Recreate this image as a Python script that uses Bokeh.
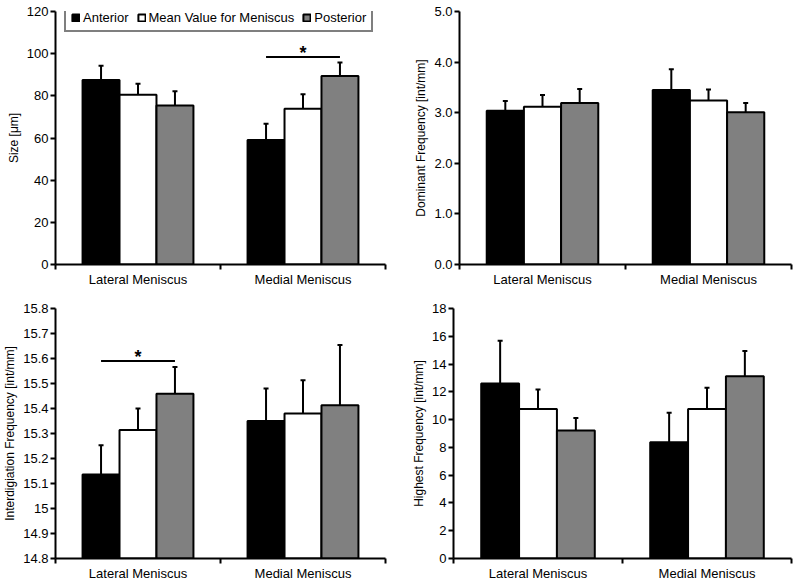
from bokeh.plotting import figure
from bokeh.models import (Range1d, FixedTicker, CustomJSTickFormatter, ColumnDataSource,
                          Whisker, TeeHead, Legend, LegendItem)
from bokeh.layouts import row, column
from bokeh.embed import file_html
from bokeh.resources import INLINE
from bokeh.core.properties import value

# ---------------- data ----------------
categories = ["Lateral Meniscus", "Medial Meniscus"]
series = ["Anterior", "Mean Value for Meniscus", "Posterior"]
series_colors = ["#000000", "#ffffff", "#808080"]

# per series: [Lateral, Medial]
size_values = [[87.5, 59.1], [80.5, 73.9], [75.4, 89.4]]
size_errors = [[6.8, 7.6], [5.2, 6.9], [6.8, 6.4]]
size_ticks = [0, 20, 40, 60, 80, 100, 120]

dominant_values = [[3.04, 3.45], [3.12, 3.24], [3.19, 3.01]]
dominant_errors = [[0.19, 0.41], [0.23, 0.22], [0.28, 0.18]]
dominant_ticks = [0.0, 1.0, 2.0, 3.0, 4.0, 5.0]

interdig_values = [[15.136, 15.350], [15.314, 15.380], [15.459, 15.413]]
interdig_errors = [[0.117, 0.130], [0.086, 0.133], [0.107, 0.241]]
interdig_ticks = [14.8, 14.9, 15.0, 15.1, 15.2, 15.3, 15.4, 15.5, 15.6, 15.7, 15.8]

highest_values = [[12.6, 8.37], [10.76, 10.76], [9.22, 13.13]]
highest_errors = [[3.08, 2.13], [1.41, 1.53], [0.89, 1.81]]
highest_ticks = [0, 2, 4, 6, 8, 10, 12, 14, 16, 18]

# significance brackets: (category index, bracket level)
size_sig = (1, 98.4)
interdig_sig = (0, 15.59)

# ---------------- style ----------------
FONT = "Liberation Sans"
BAR_W = 0.224
OFFSETS = [-BAR_W, 0.0, BAR_W]


def make_panel(values, errors, ylabel, yticks, fmt_code, width, height,
               mb_left, mb_right, mb_top, mb_bottom, sig=None, legend_loc=None):
    y0, y1 = yticks[0], yticks[-1]
    p = figure(width=width, height=height, x_range=Range1d(0, len(categories)),
               y_range=Range1d(y0, y1), output_backend="svg", toolbar_location=None,
               min_border_left=mb_left, min_border_right=mb_right,
               min_border_top=mb_top, min_border_bottom=mb_bottom)
    p.grid.visible = False
    p.outline_line_color = None
    p.background_fill_color = "white"

    renderers = []
    for s in range(len(series)):
        xs = [i + 0.5 + OFFSETS[s] for i in range(len(categories))]
        vals = values[s]
        ups = [v + e for v, e in zip(vals, errors[s])]
        src = ColumnDataSource(dict(x=xs, top=vals, upper=ups))
        r = p.vbar(x="x", top="top", bottom=y0, width=BAR_W, source=src,
                   fill_color=series_colors[s], line_color="black", line_width=2)
        w = Whisker(source=src, base="x", lower="top", upper="upper", dimension="height",
                    line_color="black", line_width=2, lower_head=None,
                    upper_head=TeeHead(size=5, line_width=2, line_color="black"),
                    level="overlay")
        p.add_layout(w)
        renderers.append(r)

    if sig is not None:
        ci, lvl = sig
        xa = ci + 0.5 + OFFSETS[0]
        xb = ci + 0.5 + OFFSETS[2]
        p.segment(x0=[xa], y0=[lvl], x1=[xb], y1=[lvl], line_color="black", line_width=2)
        p.text(x=[ci + 0.5], y=[lvl], text=["*"], text_align="center",
               text_baseline="alphabetic", y_offset=-4, text_font=value(FONT),
               text_font_size="18px", text_font_style="bold", text_color="black")

    # x axis: category labels centered, ticks at category boundaries
    xa_ = p.xaxis[0]
    xa_.ticker = FixedTicker(ticks=[i + 0.5 for i in range(len(categories))],
                             minor_ticks=list(range(len(categories) + 1)))
    xa_.formatter = CustomJSTickFormatter(args=dict(cats=categories),
                                          code="return cats[Math.floor(tick)];")
    xa_.major_tick_line_color = None
    xa_.major_tick_out = 0
    xa_.major_tick_in = 0
    xa_.minor_tick_out = 5
    xa_.minor_tick_in = 0
    xa_.minor_tick_line_width = 2
    xa_.minor_tick_line_color = "black"
    xa_.axis_line_width = 2
    xa_.axis_line_color = "black"
    xa_.major_label_standoff = 2
    xa_.major_label_text_font = FONT
    xa_.major_label_text_font_size = "13px"
    xa_.major_label_text_color = "black"

    ya = p.yaxis[0]
    ya.ticker = FixedTicker(ticks=yticks, minor_ticks=[])
    ya.formatter = CustomJSTickFormatter(code=fmt_code)
    ya.major_tick_out = 5
    ya.major_tick_in = 0
    ya.major_tick_line_width = 2
    ya.major_tick_line_color = "black"
    ya.minor_tick_line_color = None
    ya.axis_line_width = 2
    ya.axis_line_color = "black"
    ya.major_label_standoff = 2
    ya.major_label_text_font = FONT
    ya.major_label_text_font_size = "13px"
    ya.major_label_text_color = "black"
    ya.axis_label = ylabel
    ya.axis_label_standoff = 3
    ya.axis_label_text_font = FONT
    ya.axis_label_text_font_size = "12px"
    ya.axis_label_text_font_style = "normal"
    ya.axis_label_text_color = "black"

    if legend_loc is not None:
        legend = Legend(items=[LegendItem(label=series[s], renderers=[renderers[s]])
                               for s in range(len(series))],
                        location=legend_loc, orientation="horizontal",
                        glyph_width=9, glyph_height=9, label_height=12, label_width=10,
                        label_standoff=3, spacing=8, padding=5, margin=0,
                        border_line_color="black", border_line_width=2,
                        background_fill_color="white", background_fill_alpha=1,
                        label_text_font=FONT, label_text_font_size="13px",
                        label_text_color="black")
        p.add_layout(legend)
    return p


fmt_int = "return tick.toFixed(0);"
fmt_one = "return tick.toFixed(1);"
fmt_inter = "return Math.abs(tick - 15) < 1e-9 ? '15' : tick.toFixed(1);"

p1 = make_panel(size_values, size_errors, "Size [\u03bcm]", size_ticks, fmt_int,
                400, 290, 55, 15, 11, 26, sig=size_sig, legend_loc=(9, 232))
p2 = make_panel(dominant_values, dominant_errors, "Dominant Frequency [int/mm]",
                dominant_ticks, fmt_one, 400, 290, 59, 9, 11, 26)
p3 = make_panel(interdig_values, interdig_errors, "Interdigiation Frequency [int/mm]",
                interdig_ticks, fmt_inter, 400, 293, 55, 15, 18, 24, sig=interdig_sig)
p4 = make_panel(highest_values, highest_errors, "Highest Frequency [int/mm]",
                highest_ticks, fmt_int, 400, 293, 53, 9, 18, 24)

layout = column(row(p1, p2), row(p3, p4))

open("out.html", "w").write(file_html(layout, INLINE))
